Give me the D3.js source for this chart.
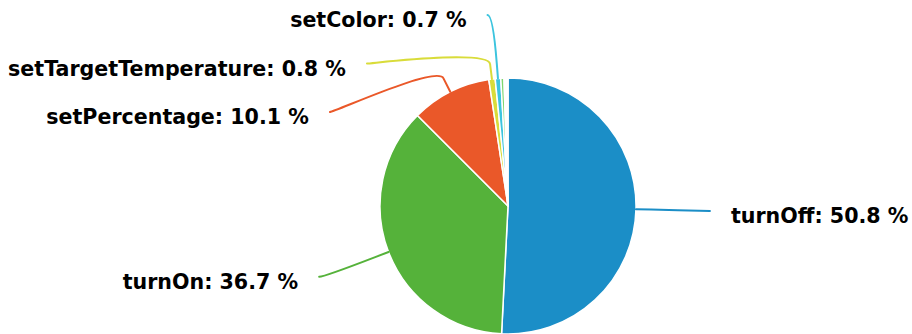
<!DOCTYPE html>
<html>
<head>
<meta charset="utf-8">
<script src="https://cdn.jsdelivr.net/npm/d3@7"></script>
<style>
  html, body { margin: 0; padding: 0; background: #ffffff; }
  svg { display: block; }
</style>
</head>
<body>
<svg id="chart" width="912" height="334"></svg>
<script>
// ---- data ----
const categories = ["turnOff", "turnOn", "setPercentage", "setTargetTemperature", "setColor", "", ""];
const shares = [50.8, 36.7, 10.1, 0.8, 0.7, 0.4, 0.5];
const sliceColors = ["#1b8ec7", "#55b23a", "#ea5829", "#d9dc3a", "#3cc4de", "#80d670", "#ffffff"];

// ---- layout ----
const W = 912, H = 334;
const cx = 508, cy = 206, r = 128;
const labelR = 197;        // radius of label circle
const labelPad = 5;        // extra horizontal padding of anchors
const breakOffset = 15;    // connector break distance beyond the slice
const textGap = 21;        // gap between connector end and text
const spacing = 48.5;      // min vertical distance between labels
const topMin = 15;

const svg = d3.select("#chart");
svg.append("rect").attr("width", W).attr("height", H).attr("fill", "#ffffff");

const data = categories.map((c, i) => ({ name: c, value: shares[i], color: sliceColors[i] }));
const pie = d3.pie().sort(null).value(d => d.value).startAngle(0).endAngle(2 * Math.PI);
const arcs = pie(data);
const arc = d3.arc().innerRadius(0).outerRadius(r);

const g = svg.append("g").attr("transform", `translate(${cx},${cy})`);
g.selectAll("path.slice").data(arcs).enter().append("path")
  .attr("class", "slice")
  .attr("d", arc)
  .attr("fill", d => d.data.color)
  .attr("stroke", "#ffffff")
  .attr("stroke-width", 1.5)
  .attr("stroke-linejoin", "round");

// polar helper: angle clockwise from 12 o'clock
const pt = (a, rad) => [cx + rad * Math.sin(a), cy - rad * Math.cos(a)];

const labels = arcs.filter(a => a.data.name !== "").map(a => {
  const mid = (a.startAngle + a.endAngle) / 2;
  const nat = pt(mid, labelR);
  return { a, mid, left: mid > Math.PI, naturalY: nat[1] };
});

// distribute each side
["left", "right"].forEach(side => {
  const list = labels.filter(l => (side === "left") === l.left).sort((p, q) => p.naturalY - q.naturalY);
  let prev = -Infinity;
  list.forEach(l => {
    l.y = Math.max(l.naturalY, prev + spacing, topMin);
    prev = l.y;
  });
});

const getX = (y, left) => {
  const dy = Math.max(-labelR, Math.min(labelR, y - cy));
  const dx = Math.sqrt(labelR * labelR - dy * dy);
  return cx + (left ? -1 : 1) * (dx + labelPad);
};

labels.forEach(l => {
  const yForX = (l.y < cy - labelR + 10) ? l.naturalY : l.y;
  l.x = getX(yForX, l.left);
  const touch = pt(l.mid, r);
  const brk = pt(l.mid, r + breakOffset);
  const c1x = l.x + (l.left ? 5 : -5);
  const path = d3.path();
  path.moveTo(l.x, l.y);
  path.bezierCurveTo(c1x, l.y, 2 * brk[0] - touch[0], 2 * brk[1] - touch[1], brk[0], brk[1]);
  path.lineTo(touch[0], touch[1]);
  svg.append("path")
    .attr("d", path.toString())
    .attr("fill", "none")
    .attr("stroke", l.a.data.color)
    .attr("stroke-width", 2)
    .attr("stroke-linecap", "round");

  svg.append("text")
    .attr("x", l.left ? l.x - textGap : l.x + textGap)
    .attr("y", l.y + 12)
    .attr("text-anchor", l.left ? "end" : "start")
    .attr("font-family", "'DejaVu Sans', sans-serif")
    .attr("font-weight", "bold")
    .attr("font-size", 20.6)
    .attr("fill", "#000000")
    .text(`${l.a.data.name}: ${l.a.data.value.toFixed(1)} %`);
});
</script>
</body>
</html>
